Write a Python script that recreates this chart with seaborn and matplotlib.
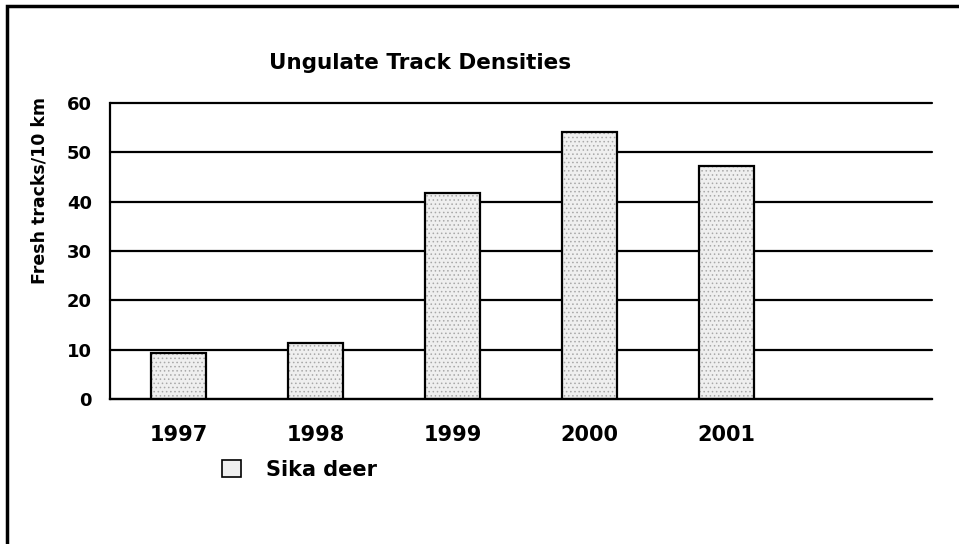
import matplotlib
matplotlib.use("Agg")
import matplotlib.pyplot as plt
from matplotlib.patches import Patch, Rectangle
import seaborn as sns
import pandas as pd

# data
years = ["1997", "1998", "1999", "2000", "2001"]
tracks = [9.4, 11.4, 41.8, 54.1, 47.3]
slots = years + [""]          # empty 6th category on the axis
series_name = "Sika deer"

df = pd.DataFrame({"Year": years, "Tracks": tracks})

sns.set_style("white")
plt.rcParams["font.family"] = ["DejaVu Sans"]
plt.rcParams["font.weight"] = "bold"
plt.rcParams["text.color"] = "black"
plt.rcParams["xtick.color"] = "black"
plt.rcParams["ytick.color"] = "black"
plt.rcParams["hatch.linewidth"] = 0.6

fig = plt.figure(figsize=(9.59, 5.44), dpi=100)
ax = fig.add_axes([110 / 959, 1 - 399 / 544, 822 / 959, 296 / 544])

fill = "#efefef"
# dotted fill, drawn with a grey hatch
sns.barplot(data=df, x="Year", y="Tracks", order=slots, color=fill,
            width=0.4, edgecolor="#a8a8a8", linewidth=0, hatch="....",
            saturation=1, ax=ax)
# black outline on top
sns.barplot(data=df, x="Year", y="Tracks", order=slots, fill=False,
            width=0.4, edgecolor="black", linewidth=1.6, ax=ax)

ax.set_xlim(-0.5, 5.5)
ax.set_ylim(0, 60)
ax.set_yticks(range(0, 61, 10))
ax.yaxis.grid(True, color="black", linewidth=1.6)
ax.set_axisbelow(True)
for gl in ax.get_ygridlines():
    gl.set_clip_on(False)

# ticks at category borders, labels at centres
ax.set_xticks([i - 0.5 for i in range(len(slots) + 1)])
ax.set_xticklabels([])
ax.set_xticks(range(len(slots)), minor=True)
ax.set_xticklabels(slots, minor=True, fontsize=15, fontweight="bold")
ax.tick_params(axis="x", which="major", direction="out", length=6, width=1.6)
ax.tick_params(axis="x", which="minor", length=0, pad=19)
ax.tick_params(axis="y", direction="out", length=6, width=1.6,
               labelsize=13, pad=7)
for lab in ax.get_yticklabels():
    lab.set_fontweight("bold")

for s in ["top", "right"]:
    ax.spines[s].set_visible(False)
for s in ["left", "bottom"]:
    ax.spines[s].set_linewidth(1.6)
    ax.spines[s].set_color("black")
ax.set_xlabel("")
ax.set_ylabel("")

fig.text(420 / 959, 1 - 63 / 544, "Ungulate Track Densities", ha="center",
         va="center", fontsize=15.5, fontweight="bold")
fig.text(40 / 959, 1 - 190 / 544, "Fresh tracks/10 km", rotation=90,
         ha="center", va="center", fontsize=12.5, fontweight="bold")

handle = Patch(facecolor=fill, edgecolor="black", linewidth=1.2)
fig.legend(handles=[handle], labels=[series_name], loc="center left",
           bbox_to_anchor=(222 / 959, 1 - 470 / 544), frameon=False,
           borderpad=0, borderaxespad=0,
           prop={"size": 15, "weight": "bold"}, handlelength=0.9,
           handleheight=0.9, handletextpad=1.2)

# outer chart frame (runs off the right and bottom edges)
fig.patches.append(Rectangle((7 / 959, -0.05), 1.1, 1.05 - 6 / 544,
                             transform=fig.transFigure, fill=False,
                             edgecolor="black", linewidth=2.5))

fig.savefig("out.png", dpi=100)
